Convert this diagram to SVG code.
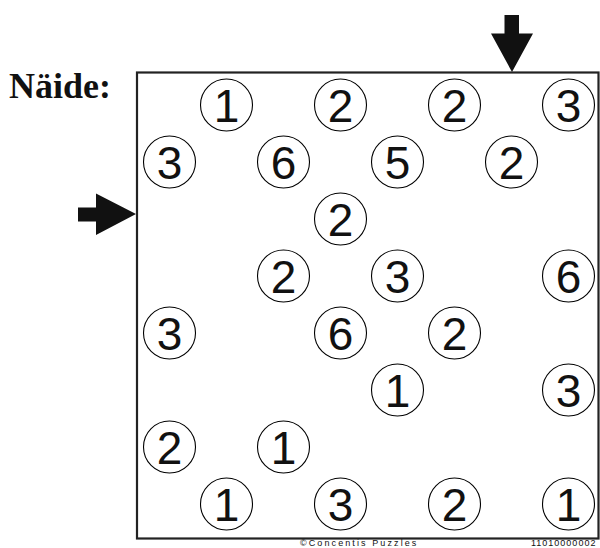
<svg xmlns="http://www.w3.org/2000/svg" width="600" height="548" viewBox="0 0 600 548">
<style>
.c{fill:none;stroke:#000;stroke-width:1.1}
.n{font-family:"Liberation Sans",Arial,sans-serif;font-size:46px;text-anchor:middle;fill:#111}
.ar{fill:#111}
.s{font-family:"Liberation Sans",Arial,sans-serif;font-size:9px;fill:#111}
</style>
<rect x="0" y="0" width="600" height="548" fill="#fff"/>
<text x="9" y="98" font-family="Liberation Serif,'Times New Roman',serif" font-weight="bold" font-size="36" fill="#111">Näide:</text>
<rect x="137" y="72.5" width="461.5" height="466" fill="none" stroke="#222" stroke-width="2.2"/>
<g id="arrows">
<polygon class="ar" points="504.5,15 519,15 519,33.5 533,33.5 512,72 491,33.5 504.5,33.5"/>
<polygon class="ar" points="78,207.5 96,207.5 96,193.5 136,214 96,235 96,221.5 78,221.5"/>
</g>
<g id="cells">
<g id="r1c2"><circle class="c" cx="226.5" cy="105" r="26"/><text class="n" x="226.5" y="122">1</text></g>
<g id="r1c4"><circle class="c" cx="340.5" cy="105" r="26"/><text class="n" x="340.5" y="122">2</text></g>
<g id="r1c6"><circle class="c" cx="454.5" cy="105" r="26"/><text class="n" x="454.5" y="122">2</text></g>
<g id="r1c8"><circle class="c" cx="568.5" cy="105" r="26"/><text class="n" x="568.5" y="122">3</text></g>
<g id="r2c1"><circle class="c" cx="169.5" cy="162" r="26"/><text class="n" x="169.5" y="179">3</text></g>
<g id="r2c3"><circle class="c" cx="283.5" cy="162" r="26"/><text class="n" x="283.5" y="179">6</text></g>
<g id="r2c5"><circle class="c" cx="397.5" cy="162" r="26"/><text class="n" x="397.5" y="179">5</text></g>
<g id="r2c7"><circle class="c" cx="511.5" cy="162" r="26"/><text class="n" x="511.5" y="179">2</text></g>
<g id="r3c4"><circle class="c" cx="340.5" cy="219" r="26"/><text class="n" x="340.5" y="236">2</text></g>
<g id="r4c3"><circle class="c" cx="283.5" cy="276" r="26"/><text class="n" x="283.5" y="293">2</text></g>
<g id="r4c5"><circle class="c" cx="397.5" cy="276" r="26"/><text class="n" x="397.5" y="293">3</text></g>
<g id="r4c8"><circle class="c" cx="568.5" cy="276" r="26"/><text class="n" x="568.5" y="293">6</text></g>
<g id="r5c1"><circle class="c" cx="169.5" cy="333" r="26"/><text class="n" x="169.5" y="350">3</text></g>
<g id="r5c4"><circle class="c" cx="340.5" cy="333" r="26"/><text class="n" x="340.5" y="350">6</text></g>
<g id="r5c6"><circle class="c" cx="454.5" cy="333" r="26"/><text class="n" x="454.5" y="350">2</text></g>
<g id="r6c5"><circle class="c" cx="397.5" cy="390" r="26"/><text class="n" x="397.5" y="407">1</text></g>
<g id="r6c8"><circle class="c" cx="568.5" cy="390" r="26"/><text class="n" x="568.5" y="407">3</text></g>
<g id="r7c1"><circle class="c" cx="169.5" cy="447" r="26"/><text class="n" x="169.5" y="464">2</text></g>
<g id="r7c3"><circle class="c" cx="283.5" cy="447" r="26"/><text class="n" x="283.5" y="464">1</text></g>
<g id="r8c2"><circle class="c" cx="226.5" cy="504" r="26"/><text class="n" x="226.5" y="521">1</text></g>
<g id="r8c4"><circle class="c" cx="340.5" cy="504" r="26"/><text class="n" x="340.5" y="521">3</text></g>
<g id="r8c6"><circle class="c" cx="454.5" cy="504" r="26"/><text class="n" x="454.5" y="521">2</text></g>
<g id="r8c8"><circle class="c" cx="568.5" cy="504" r="26"/><text class="n" x="568.5" y="521">1</text></g>
</g>
<text class="s" x="300" y="546" letter-spacing="2.1">©Concentis Puzzles</text>
<text class="s" x="531" y="546" letter-spacing="1">11010000002</text>
</svg>
